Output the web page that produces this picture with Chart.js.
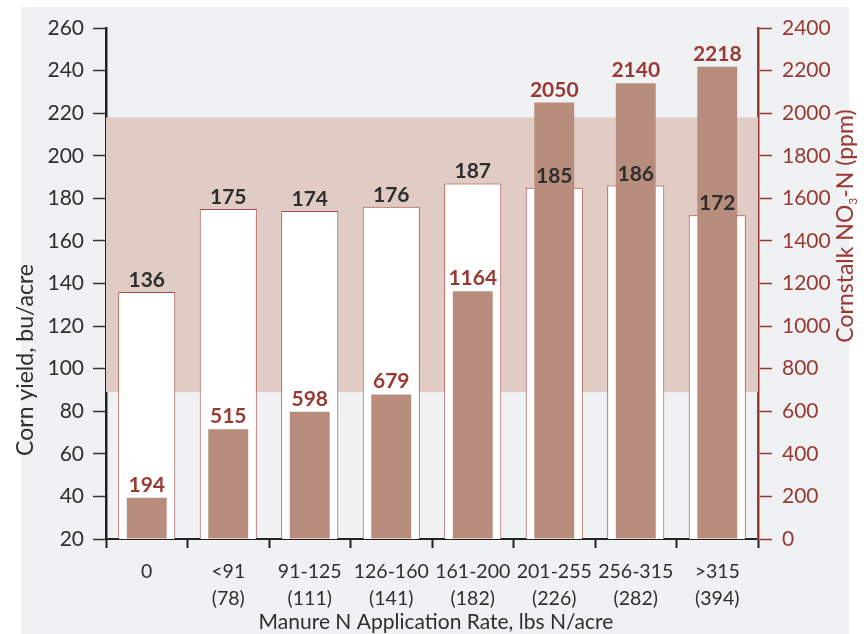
<!DOCTYPE html>
<html>
<head>
<meta charset="utf-8">
<script src="https://cdn.jsdelivr.net/npm/chart.js@4"></script>
<style>
  html, body { margin: 0; padding: 0; background: #ffffff; }
  #wrap { width: 864px; height: 634px; }
</style>
</head>
<body>
<div id="wrap"><canvas id="chart" width="864" height="634"></canvas></div>
<script>
// Manure N application rate classes (lbs N/acre) and the mean rate in each class
const rateRanges = ['0', '<91', '91-125', '126-160', '161-200', '201-255', '256-315', '>315'];
const rateMeans  = ['', '(78)', '(111)', '(141)', '(182)', '(226)', '(282)', '(394)'];

// Corn yield, bu/acre
const cornYield = [136, 175, 174, 176, 187, 185, 186, 172];
// End-of-season cornstalk nitrate, ppm NO3-N
const stalkNitrate = [194, 515, 598, 679, 1164, 2050, 2140, 2218];

// Optimal cornstalk nitrate range, ppm
const optimalRange = [690, 1980];

// Axis ranges and tick steps
const yieldAxis = { min: 20, max: 260, step: 20 };
const nitrateAxis = { min: 0, max: 2400, step: 200 };

// Axis titles
const xTitle = 'Manure N Application Rate, lbs N/acre';
const yTitle = 'Corn yield, bu/acre';
const y2TitleParts = ['Cornstalk NO', '3', '-N (ppm)'];

const labels = rateRanges.map((r, i) => rateMeans[i] ? [r, rateMeans[i]] : [r]);

const RED = '#983a33';
const INK = '#2e2e2e';
const FONT = 'Lato, "Open Sans", sans-serif';

const panelPlugin = {
  id: 'panel',
  beforeDraw(chart) {
    const ctx = chart.ctx;
    ctx.save();
    ctx.fillStyle = '#f0f1f3';
    ctx.fillRect(21, 7, chart.width - 21 - 15, chart.height - 7);
    ctx.restore();
  }
};

const bandPlugin = {
  id: 'optimalBand',
  beforeDatasetsDraw(chart) {
    const { ctx, chartArea } = chart;
    const s = chart.scales.y2;
    const top = s.getPixelForValue(optimalRange[1]);
    const bottom = s.getPixelForValue(optimalRange[0]);
    ctx.save();
    ctx.fillStyle = '#e0ccc4';
    ctx.fillRect(chartArea.left, top, chartArea.right - chartArea.left, bottom - top);
    ctx.restore();
  }
};

const valueLabelPlugin = {
  id: 'valueLabels',
  afterDatasetsDraw(chart) {
    const ctx = chart.ctx;
    ctx.save();
    ctx.textAlign = 'center';
    ctx.textBaseline = 'alphabetic';
    chart.data.datasets.forEach((ds, di) => {
      const meta = chart.getDatasetMeta(di);
      ctx.fillStyle = ds.labelColor;
      ctx.font = 'bold 21px ' + FONT;
      meta.data.forEach((el, i) => {
        ctx.fillText(String(ds.data[i]), el.x, el.y - ds.labelGap);
      });
    });
    ctx.restore();
  }
};

const titlePlugin = {
  id: 'axisTitles',
  afterDraw(chart) {
    const { ctx, chartArea } = chart;
    ctx.save();
    // bottom title
    ctx.font = '21px ' + FONT;
    ctx.fillStyle = INK;
    ctx.textAlign = 'center';
    ctx.textBaseline = 'middle';
    ctx.fillText(xTitle, (chartArea.left + chartArea.right) / 2 + 4, chart.height - 12);

    // left title
    ctx.save();
    ctx.translate(26, 360);
    ctx.rotate(-Math.PI / 2);
    ctx.font = '23px ' + FONT;
    ctx.fillText(yTitle, 0, 0);
    ctx.restore();

    // right title with subscript
    ctx.save();
    ctx.translate(845, 226);
    ctx.rotate(-Math.PI / 2);
    ctx.fillStyle = RED;
    ctx.textAlign = 'left';
    ctx.textBaseline = 'alphabetic';
    const mainFont = '23px ' + FONT;
    const subFont = '12px ' + FONT;
    ctx.font = mainFont;
    const w1 = ctx.measureText(y2TitleParts[0]).width;
    const w3 = ctx.measureText(y2TitleParts[2]).width;
    ctx.font = subFont;
    const w2 = ctx.measureText(y2TitleParts[1]).width;
    let x = -(w1 + w2 + w3) / 2;
    const base = 8;
    ctx.font = mainFont;
    ctx.fillText(y2TitleParts[0], x, base);
    x += w1;
    ctx.font = subFont;
    ctx.fillText(y2TitleParts[1], x, base + 4);
    x += w2;
    ctx.font = mainFont;
    ctx.fillText(y2TitleParts[2], x, base);
    ctx.restore();

    ctx.restore();
  }
};

new Chart(document.getElementById('chart'), {
  type: 'bar',
  data: {
    labels: labels,
    datasets: [
      {
        label: 'Cornstalk NO3-N',
        data: stalkNitrate,
        yAxisID: 'y2',
        order: 0,
        backgroundColor: '#b98d7d',
        borderWidth: 0,
        barPercentage: 0.49,
        categoryPercentage: 1,
        labelColor: RED,
        labelGap: 6
      },
      {
        label: 'Corn yield',
        data: cornYield,
        yAxisID: 'y',
        order: 1,
        backgroundColor: '#ffffff',
        borderColor: '#a34e47',
        borderWidth: 1,
        barPercentage: 0.70,
        categoryPercentage: 1,
        labelColor: INK,
        labelGap: 5
      }
    ]
  },
  options: {
    responsive: false,
    animation: false,
    devicePixelRatio: 1,
    layout: { padding: { top: 28, left: 0, right: 0, bottom: 0 } },
    plugins: {
      legend: { display: false },
      tooltip: { enabled: false }
    },
    datasets: { bar: { grouped: false } },
    scales: {
      x: {
        offset: true,
        afterFit(scale) { scale.height = 95; },
        grid: {
          offset: true,
          drawOnChartArea: false,
          drawTicks: true,
          tickLength: 9,
          tickColor: '#222',
          tickWidth: 2
        },
        border: { display: true, color: '#222', width: 2 },
        ticks: {
          color: INK,
          padding: 11,
          font: { family: FONT, size: 19.5, lineHeight: 1.35 },
          maxRotation: 0,
          autoSkip: false
        }
      },
      y: {
        position: 'left',
        min: yieldAxis.min,
        max: yieldAxis.max,
        afterFit(scale) { scale.width = 106; },
        grid: {
          drawOnChartArea: false,
          drawTicks: true,
          tickLength: 13,
          tickColor: '#333',
          tickWidth: 1.5
        },
        border: { display: true, color: '#222', width: 2.5 },
        ticks: {
          stepSize: yieldAxis.step,
          color: INK,
          padding: 9,
          font: { family: FONT, size: 21 }
        }
      },
      y2: {
        position: 'right',
        min: nitrateAxis.min,
        max: nitrateAxis.max,
        afterFit(scale) { scale.width = 106; },
        grid: {
          drawOnChartArea: false,
          drawTicks: true,
          tickLength: 14,
          tickColor: RED,
          tickWidth: 1.5
        },
        border: { display: true, color: RED, width: 2.5 },
        ticks: {
          stepSize: nitrateAxis.step,
          color: RED,
          padding: 10,
          font: { family: FONT, size: 21 },
          callback: (v) => String(v)
        }
      }
    }
  },
  plugins: [panelPlugin, bandPlugin, valueLabelPlugin, titlePlugin]
});
</script>
</body>
</html>
